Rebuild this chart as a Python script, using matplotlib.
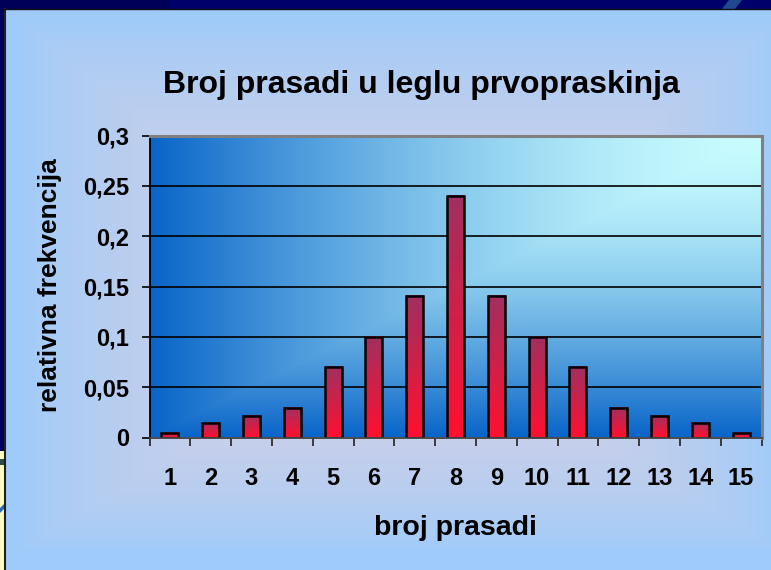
import numpy as np
import matplotlib
matplotlib.use("Agg")
import matplotlib.pyplot as plt
from matplotlib.patches import Rectangle, Polygon
from matplotlib.colors import to_rgb

# ---- data ----
categories = list(range(1, 16))
values = [0.004, 0.014, 0.021, 0.029, 0.070, 0.100, 0.141, 0.240,
          0.141, 0.100, 0.070, 0.029, 0.021, 0.014, 0.004]
ytick_values = [0, 0.05, 0.1, 0.15, 0.2, 0.25, 0.3]
ytick_labels = ["0", "0,05", "0,1", "0,15", "0,2", "0,25", "0,3"]
title = "Broj prasadi u leglu prvopraskinja"
xlabel = "broj prasadi"
ylabel = "relativna frekvencija"

plt.rcParams['font.family'] = ['Liberation Sans', 'DejaVu Sans']
plt.rcParams['font.weight'] = 'bold'

W, H = 771, 570
fig = plt.figure(figsize=(W / 100, H / 100), dpi=100)
fig.patch.set_facecolor('#000058')

# ---- slide background / chart panel ----
bg = fig.add_axes([0, 0, 1, 1])
bg.axis('off')
bg.add_patch(Rectangle((170, 0), W - 170, 9, color='#00006a', lw=0))
bg.add_patch(Polygon([[722, 9], [729, 0], [742, 0], [735, 9]], closed=True, color='#1f4a8e', lw=0))
bg.add_patch(Rectangle((0, 451), 5, H - 451, color='#fffcc0', lw=0))
bg.add_patch(Rectangle((0, 459), 5, 6, color='#2f4a48', lw=0))
bg.add_patch(Polygon([[0, 508], [5, 503], [5, 508], [0, 513]], closed=True, color='#2a6ab0', lw=0))

px0, py0 = 5, 9
yy, xx = np.mgrid[py0:H, px0:W] + 0.5
cx, cy = 400, 320
dx = np.abs(xx - cx) / 380
dy = np.where(yy < cy, (cy - yy) / 300, (yy - cy) / 230)
t = np.maximum(dx, dy)
f = np.clip(1 - t, 0, 1) ** 0.7
edge = np.array(to_rgb('#9ecbfa'))
center = np.array([225, 210, 225]) / 255
img = edge + (center - edge) * f[..., None]
bg.imshow(img, extent=[px0, W, H, py0], aspect='auto', interpolation='bilinear')
bg.plot([px0 - 0.5, px0 - 0.5], [py0, H], color='#202020', lw=1.5)
bg.plot([px0, W], [py0 - 0.5, py0 - 0.5], color='#101010', lw=1)
bg.set_xlim(0, W)
bg.set_ylim(H, 0)

# ---- main plot ----
ax = fig.add_axes([149.5 / W, (H - 437.5) / H, 612 / W, 302 / H])
ax.set_facecolor('none')
x_lo, x_hi = 0.5, len(categories) + 0.5
y_lo, y_hi = 0, 0.3

# plot-area gradient "from corner" (top-right light)
gy, gx = np.mgrid[0:302, 0:612] + 0.5
tt = np.maximum((612 - gx) / 612, gy / 302)
c0 = np.array([200, 252, 255]) / 255
c1 = np.array([8, 100, 200]) / 255
pimg = c0 + (c1 - c0) * (tt ** 1.6)[..., None]
ax.imshow(pimg, extent=[x_lo, x_hi, y_lo, y_hi], aspect='auto',
          interpolation='bilinear', zorder=0)

for v in ytick_values[1:-1]:
    ax.axhline(v, color='#000000', lw=1.2, zorder=1)

# bars with vertical gradient
top_c = np.array([160, 48, 96]) / 255
bot_c = np.array([255, 16, 48]) / 255
bw = 0.42
grad = np.linspace(0, 1, 64)[:, None, None]
bar_img = top_c + (bot_c - top_c) * grad
for c, v in zip(categories, values):
    ax.imshow(bar_img, extent=[c - bw / 2, c + bw / 2, 0, v], aspect='auto',
              interpolation='bilinear', zorder=2)
bars = ax.bar(categories, values, width=bw, fill=False, edgecolor='black',
              linewidth=1.8, zorder=3)

ax.set_xlim(x_lo, x_hi)
ax.set_ylim(y_lo, y_hi)

for s in ['top', 'right']:
    ax.spines[s].set_color('#808080')
    ax.spines[s].set_linewidth(2.2)
ax.spines['left'].set_color('black')
ax.spines['left'].set_linewidth(1.3)
ax.spines['bottom'].set_color('#404040')
ax.spines['bottom'].set_linewidth(1.3)
for s in ax.spines.values():
    s.set_zorder(5)

ax.set_yticks(ytick_values)
ax.set_yticklabels(ytick_labels, fontsize=17, fontweight='bold')
ax.tick_params(axis='y', direction='out', length=5.8, width=1.2, color='black', pad=9)

ax.set_xticks(np.arange(x_lo, x_hi + 0.01, 1))
ax.set_xticklabels([])
ax.tick_params(axis='x', which='major', direction='out', length=5.8, width=1.2, color='#202020')
ax.set_xticks(categories, minor=True)
ax.set_xticklabels([str(c) for c in categories], minor=True, fontsize=17, fontweight='bold')
ax.tick_params(axis='x', which='minor', length=0, pad=21)

fig.text(421 / W, 1 - 85 / H, title, ha='center', va='center', fontsize=23, fontweight='bold')
fig.text(455 / W, 1 - 528 / H, xlabel, ha='center', va='center', fontsize=20.5, fontweight='bold')
fig.text(50 / W, 1 - 285 / H, ylabel, ha='center', va='center', rotation=90,
         fontsize=19, fontweight='bold')

fig.savefig('out.png', dpi=100)
